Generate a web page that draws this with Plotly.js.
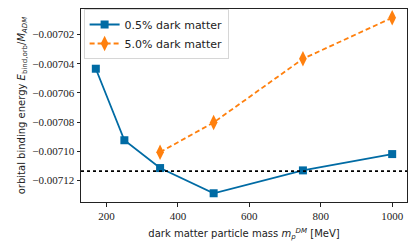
<!DOCTYPE html>
<html>
<head>
<meta charset="utf-8">
<script src="https://cdn.plot.ly/plotly-3.0.1.min.js"></script>
<style>html,body{margin:0;padding:0;background:#fff;}#chart{width:416px;height:249px;}</style>
</head>
<body>
<div id="chart"></div>
<script>
const massLow = [170, 250, 350, 500, 750, 1000];
const energyLow = [-0.0070434, -0.0070925, -0.0071116, -0.0071289, -0.0071132, -0.0071020];
const massHigh = [350, 500, 750, 1000];
const energyHigh = [-0.0071007, -0.0070803, -0.0070366, -0.0070084];
const refLevel = -0.0071137;
const seriesNames = ["0.5% dark matter", "5.0% dark matter"];
const xTicks = [200, 400, 600, 800, 1000];
const yTicks = [-0.00702, -0.00704, -0.00706, -0.00708, -0.00710, -0.00712];

const traces = [
  {x: massLow, y: energyLow, name: seriesNames[0], mode: "lines+markers", type: "scatter",
   line: {color: "#006BA4", width: 1.8},
   marker: {symbol: "square", size: 8, color: "#006BA4"}},
  {x: massHigh, y: energyHigh, name: seriesNames[1], mode: "lines+markers", type: "scatter",
   line: {color: "#FF800E", width: 1.8, dash: "5px,3px"},
   marker: {symbol: "diamond-tall", size: 11, color: "#FF800E"}}
];

const layout = {
  width: 416, height: 249,
  margin: {l: 81, r: 9, t: 9, b: 47},
  paper_bgcolor: "#fff", plot_bgcolor: "#fff",
  showlegend: true,
  legend: {x: 0.008, y: 1.0, xanchor: "left", yanchor: "top",
    bgcolor: "rgba(255,255,255,0.8)", bordercolor: "#d6d6d6", borderwidth: 1,
    font: {family: "DejaVu Sans", size: 11, color: "#222"}, tracegroupgap: 0, itemwidth: 30},
  xaxis: {range: [128.5, 1041.5], tickvals: xTicks, ticktext: xTicks.map(String),
    showgrid: false, zeroline: false, showline: true, mirror: true, linecolor: "#222", linewidth: 1,
    ticks: "outside", ticklen: 3.5, tickcolor: "#222",
    tickfont: {family: "Liberation Serif", size: 11, color: "#222"},
    title: {text: "dark matter particle mass <i>m</i><sub><i>p</i></sub><sup><i>DM</i></sup> [MeV]",
      font: {family: "DejaVu Sans", size: 10, color: "#222"}, standoff: 9}},
  yaxis: {range: [-0.0071349, -0.0070024], tickvals: yTicks,
    ticktext: yTicks.map(v => "\u2212" + Math.abs(v).toFixed(5)),
    showgrid: false, zeroline: false, showline: true, mirror: true, linecolor: "#222", linewidth: 1,
    ticks: "outside", ticklen: 3.5, tickcolor: "#222",
    tickfont: {family: "Liberation Serif", size: 11, color: "#222"},
    title: {text: "orbital binding energy <i>E</i><sub>bind,orb</sub>/<i>M</i><sub><i>ADM</i></sub>",
      font: {family: "DejaVu Sans", size: 10, color: "#222"}, standoff: 4}},
  shapes: [{type: "line", xref: "paper", x0: 0, x1: 1, yref: "y", y0: refLevel, y1: refLevel,
    line: {color: "#000", width: 1.6, dash: "dot"}}]
};

Plotly.newPlot("chart", traces, layout, {staticPlot: true, displayModeBar: false});
</script>
</body>
</html>
